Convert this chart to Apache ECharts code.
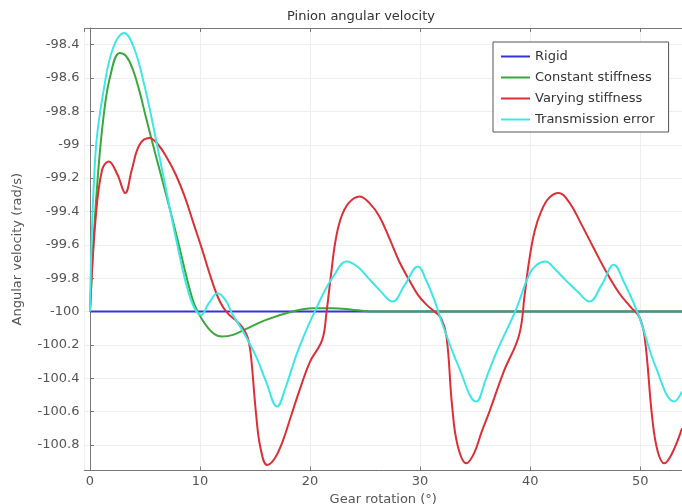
<!DOCTYPE html>
<html>
<head>
<meta charset="utf-8">
<title>Pinion angular velocity</title>
<script src="https://cdn.jsdelivr.net/npm/echarts@6.0.0/dist/echarts.min.js"></script>
<style>
  html, body { margin: 0; padding: 0; background: #fff; }
  #chart { width: 682px; height: 504px; }
</style>
</head>
<body>
<div id="chart"></div>
<script>
// [gear rotation (deg), angular velocity (rad/s)]
const rigid = [[0, -100], [53.8, -100]]

const constantStiffness = [
  [0, -100], [0.3, -99.6], [0.7, -99.2], [1.2, -98.85], [1.8, -98.6],
  [2.7, -98.45], [3.3, -98.47], [3.9, -98.55], [4.5, -98.68], [5.1, -98.84],
  [6.0, -99.07], [7.0, -99.32], [8.0, -99.58], [8.8, -99.8], [9.5, -99.96],
  [10.3, -100.06], [11.2, -100.13], [12.0, -100.15], [13.0, -100.14], [14.0, -100.11],
  [16.0, -100.05], [18.4, -100.0], [20.2, -99.98], [22.0, -99.98], [24.0, -99.99],
  [26.0, -100], [53.8, -100]
]

const varyingStiffness = [
  [0, -100], [0.5, -99.45], [1.1, -99.15], [1.7, -99.1], [2.5, -99.18],
  [3.2, -99.29], [3.8, -99.15], [4.5, -99.0], [5.4, -98.96], [6.2, -99.0],
  [7.0, -99.08], [7.8, -99.18], [8.6, -99.31], [9.4, -99.47], [10.2, -99.63],
  [11.0, -99.8], [11.8, -99.94], [12.5, -100.01], [13.2, -100.05], [13.8, -100.09],
  [14.3, -100.15], [14.6, -100.25], [15.1, -100.62], [15.5, -100.82], [16.1, -100.92],
  [16.8, -100.88], [17.5, -100.78], [18.3, -100.62], [19.0, -100.48], [20.0, -100.3],
  [21.1, -100.17], [21.5, -100.0], [21.9, -99.78], [22.3, -99.58], [22.8, -99.44],
  [23.5, -99.35], [24.5, -99.31], [25.4, -99.35], [26.3, -99.43], [27.2, -99.56],
  [28.1, -99.7], [29.0, -99.81], [29.8, -99.9], [30.6, -99.96], [31.3, -100.0],
  [31.9, -100.04], [32.4, -100.15], [32.9, -100.56], [33.4, -100.8], [34.2, -100.91],
  [34.9, -100.85], [35.6, -100.72], [36.3, -100.6], [37.6, -100.36], [39.0, -100.14],
  [39.5, -99.9], [39.9, -99.7], [40.4, -99.52], [41.0, -99.4], [41.7, -99.32],
  [42.6, -99.29], [43.6, -99.35], [44.6, -99.47], [45.7, -99.61], [46.9, -99.76],
  [48.1, -99.89], [49.1, -99.97], [49.9, -100.03], [50.4, -100.15], [51.1, -100.64],
  [51.6, -100.84], [52.2, -100.91], [52.9, -100.85], [53.8, -100.7]
]

const transmissionError = [
  [0, -100], [0.5, -99.05], [1.3, -98.65], [2.1, -98.42], [3.1, -98.33],
  [4.0, -98.42], [5.0, -98.66], [6.0, -98.97], [7.0, -99.3], [8.0, -99.62],
  [8.8, -99.85], [9.5, -99.98], [10.1, -100.02], [10.8, -99.95], [11.6, -99.89],
  [12.3, -99.93], [12.9, -100.01], [14.0, -100.13], [15.1, -100.27], [16.0, -100.42],
  [17.0, -100.57], [17.8, -100.45], [18.7, -100.27], [19.6, -100.12], [20.5, -99.99],
  [21.3, -99.88], [22.2, -99.78], [23.3, -99.7], [24.3, -99.73], [25.3, -99.8],
  [26.3, -99.87], [27.5, -99.94], [28.6, -99.84], [29.8, -99.73], [30.6, -99.82],
  [31.4, -99.95], [32.0, -100.07], [33.5, -100.33], [35.1, -100.54], [36.0, -100.4],
  [36.9, -100.25], [38.7, -99.99], [39.9, -99.78], [40.6, -99.72], [41.4, -99.7],
  [42.3, -99.75], [43.2, -99.81], [44.3, -99.88], [45.4, -99.94], [46.5, -99.84],
  [47.6, -99.72], [48.5, -99.82], [49.9, -100.03], [51.4, -100.33], [53.1, -100.54],
  [53.8, -100.48]
]

const seriesNames = ['Rigid', 'Constant stiffness', 'Varying stiffness', 'Transmission error']
const seriesColors = ['#3333dd', '#3aa83a', '#dd2f35', '#3fe6e6']
const seriesData = [rigid, constantStiffness, varyingStiffness, transmissionError]

const xRange = [-0.5, 53.8]
const yRange = [-100.953, -98.3]

const font = 'DejaVu Sans'
const textColor = '#555'
const axisColor = '#777'

const chart = echarts.init(document.getElementById('chart'))
chart.setOption({
  animation: false,
  title: {
    text: 'Pinion angular velocity',
    left: 356,
    top: 5,
    textAlign: 'center',
    textStyle: { fontFamily: font, fontSize: 13, fontWeight: 'normal', color: '#333' }
  },
  legend: {
    orient: 'vertical',
    left: 493,
    top: 42,
    data: seriesNames,
    icon: 'rect',
    itemWidth: 29,
    itemHeight: 2,
    itemGap: 8,
    padding: [8, 14, 6, 8],
    borderColor: '#555',
    borderWidth: 1,
    backgroundColor: '#fff',
    textStyle: { fontFamily: font, fontSize: 13, color: '#333' }
  },
  grid: { left: 84.5, right: 0, top: 28, bottom: 33.5, outerBoundsMode: 'none' },
  xAxis: [
    {
      type: 'value',
      min: xRange[0],
      max: xRange[1],
      minInterval: 10,
      maxInterval: 10,
      name: 'Gear rotation (°)',
      nameLocation: 'middle',
      nameGap: 20,
      nameTextStyle: { fontFamily: font, fontSize: 13, color: textColor },
      axisLine: { lineStyle: { color: axisColor } },
      axisTick: { inside: true, length: 4, lineStyle: { color: axisColor } },
      axisLabel: { showMinLabel: false, showMaxLabel: false, margin: 5, fontFamily: font, fontSize: 13, color: textColor },
      splitLine: { lineStyle: { color: '#eeeeee' } }
    },
    {
      type: 'value',
      position: 'top',
      min: xRange[0],
      max: xRange[1],
      minInterval: 10,
      maxInterval: 10,
      axisLine: { lineStyle: { color: axisColor } },
      axisTick: { inside: true, length: 4, lineStyle: { color: axisColor } },
      axisLabel: { show: false },
      splitLine: { show: false }
    }
  ],
  yAxis: {
    type: 'value',
    min: yRange[0],
    max: yRange[1],
    minInterval: 0.2,
    maxInterval: 0.2,
    name: 'Angular velocity (rad/s)',
    nameLocation: 'middle',
    nameGap: 60,
    nameTextStyle: { fontFamily: font, fontSize: 13, color: textColor },
    axisLine: { show: true, lineStyle: { color: axisColor } },
    axisTick: { show: true, inside: true, length: 4, lineStyle: { color: axisColor } },
    axisLabel: { showMinLabel: false, showMaxLabel: false, margin: 5, fontFamily: font, fontSize: 13, color: textColor },
    splitLine: { lineStyle: { color: '#eeeeee' } }
  },
  series: seriesNames.map((name, i) => ({
    name: name,
    type: 'line',
    data: seriesData[i],
    smooth: 0.4,
    showSymbol: false,
    symbol: 'none',
    clip: true,
    color: seriesColors[i],
    lineStyle: { width: 2, color: seriesColors[i] }
  }))
})
</script>
</body>
</html>
